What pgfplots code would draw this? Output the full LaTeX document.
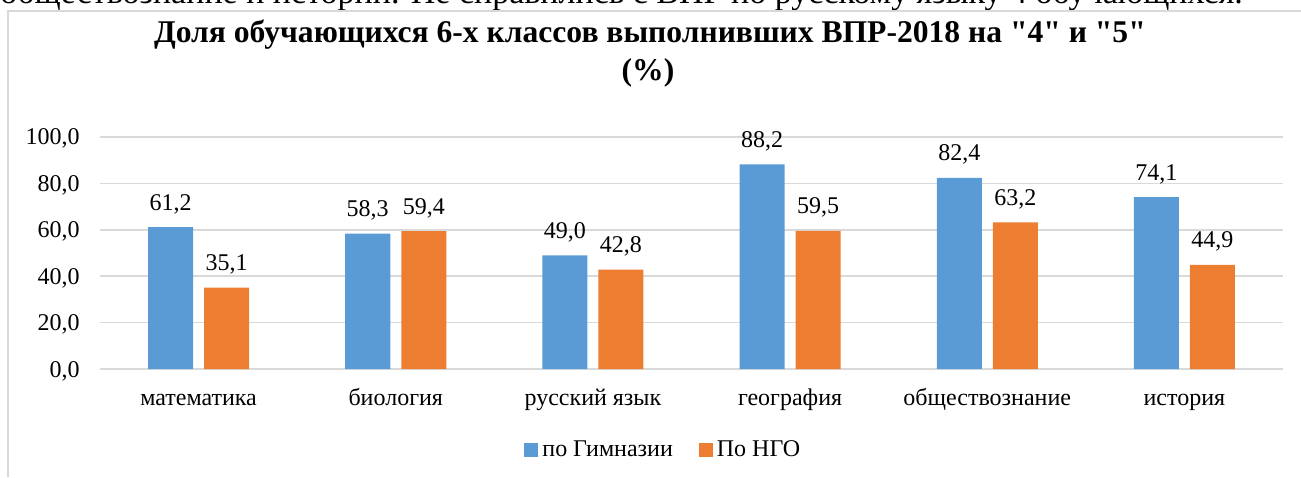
\documentclass[border=0pt]{standalone}
\usepackage{fontspec}
\setmainfont{Liberation Serif}[Ligatures=TeXOff]
\usepackage{pgfplots}
\pgfplotsset{compat=1.18}
\definecolor{gymblue}{HTML}{5B9BD5}
\definecolor{ngoorange}{HTML}{ED7D31}
\definecolor{gridgray}{HTML}{D9D9D9}

\pgfplotstableread{
x val
0 61.2
1 58.3
2 49.0
3 88.2
4 82.4
5 74.1
}\gym
\pgfplotstableread{
x val
0 35.1
1 59.4
2 42.8
3 59.5
4 63.2
5 44.9
}\ngo

\begin{document}
\begin{tikzpicture}
\path[use as bounding box] (0,0) rectangle (650.5pt,238.5pt);
\clip (0,0) rectangle (650.5pt,238.5pt);
% cut-off line of the surrounding text
\node[anchor=base west, inner sep=0pt, font=\fontsize{17}{20}\selectfont] at (0,236.5pt)
  {обществознание и истории. Не справились с ВПР по русскому языку 4 обучающихся.};
% chart frame
\draw[gridgray, line width=0.6pt] (4pt,0) -- (4pt,233pt) -- (652pt,233pt);
% title
\node[anchor=base, inner sep=0pt, font=\fontsize{15.8}{19}\selectfont\bfseries] at (325pt,217pt)
  {Доля обучающихся 6-х классов выполнивших ВПР-2018 на "4" и "5"};
\node[anchor=base, inner sep=0pt, font=\fontsize{15.8}{19}\selectfont\bfseries] at (324pt,198pt) {(\%)};

\begin{axis}[
    at={(50pt,54pt)}, anchor=south west,
    scale only axis, width=591.5pt, height=116pt,
    xmin=-0.5, xmax=5.5, ymin=0, ymax=100,
    ybar, bar width=22.5pt,
    axis line style={draw=none},
    ymajorgrids, major grid style={gridgray, line width=0.75pt},
    major tick length=0pt,
    ytick={0,20,...,100},
    xtick={0,...,5},
    xticklabels={математика, биология, русский язык, география, обществознание, история},
    tick label style={font=\fontsize{12}{14}\selectfont},
    xticklabel style={anchor=base, inner sep=0pt, yshift=-18pt},
    yticklabel style={anchor=base east, inner sep=0pt, xshift=-10pt, yshift=-4pt},
    /pgf/number format/.cd, use comma, fixed, fixed zerofill, precision=1, assume math mode=true,
    /pgfplots/.cd,
    nodes near coords,
    every node near coord/.append style={font=\fontsize{12}{14}\selectfont, anchor=base, inner sep=0pt, yshift=8.5pt},
    legend style={at={(0.477,-0.349)}, anchor=center, draw=none, fill=none,
      legend columns=2, font=\fontsize{12}{14}\selectfont, inner sep=0pt,
      /tikz/every even column/.append style={column sep=11pt}},
    legend image code/.code={\fill[#1] (0pt,-3.5pt) rectangle (7pt,3.5pt);},
]
\addplot[fill=gymblue, draw=none, bar shift=-14pt] table[x=x, y=val] {\gym};
\addlegendentry{по Гимназии}
\addplot[fill=ngoorange, draw=none, bar shift=14pt] table[x=x, y=val] {\ngo};
\addlegendentry{По НГО}
\end{axis}
\end{tikzpicture}
\end{document}
